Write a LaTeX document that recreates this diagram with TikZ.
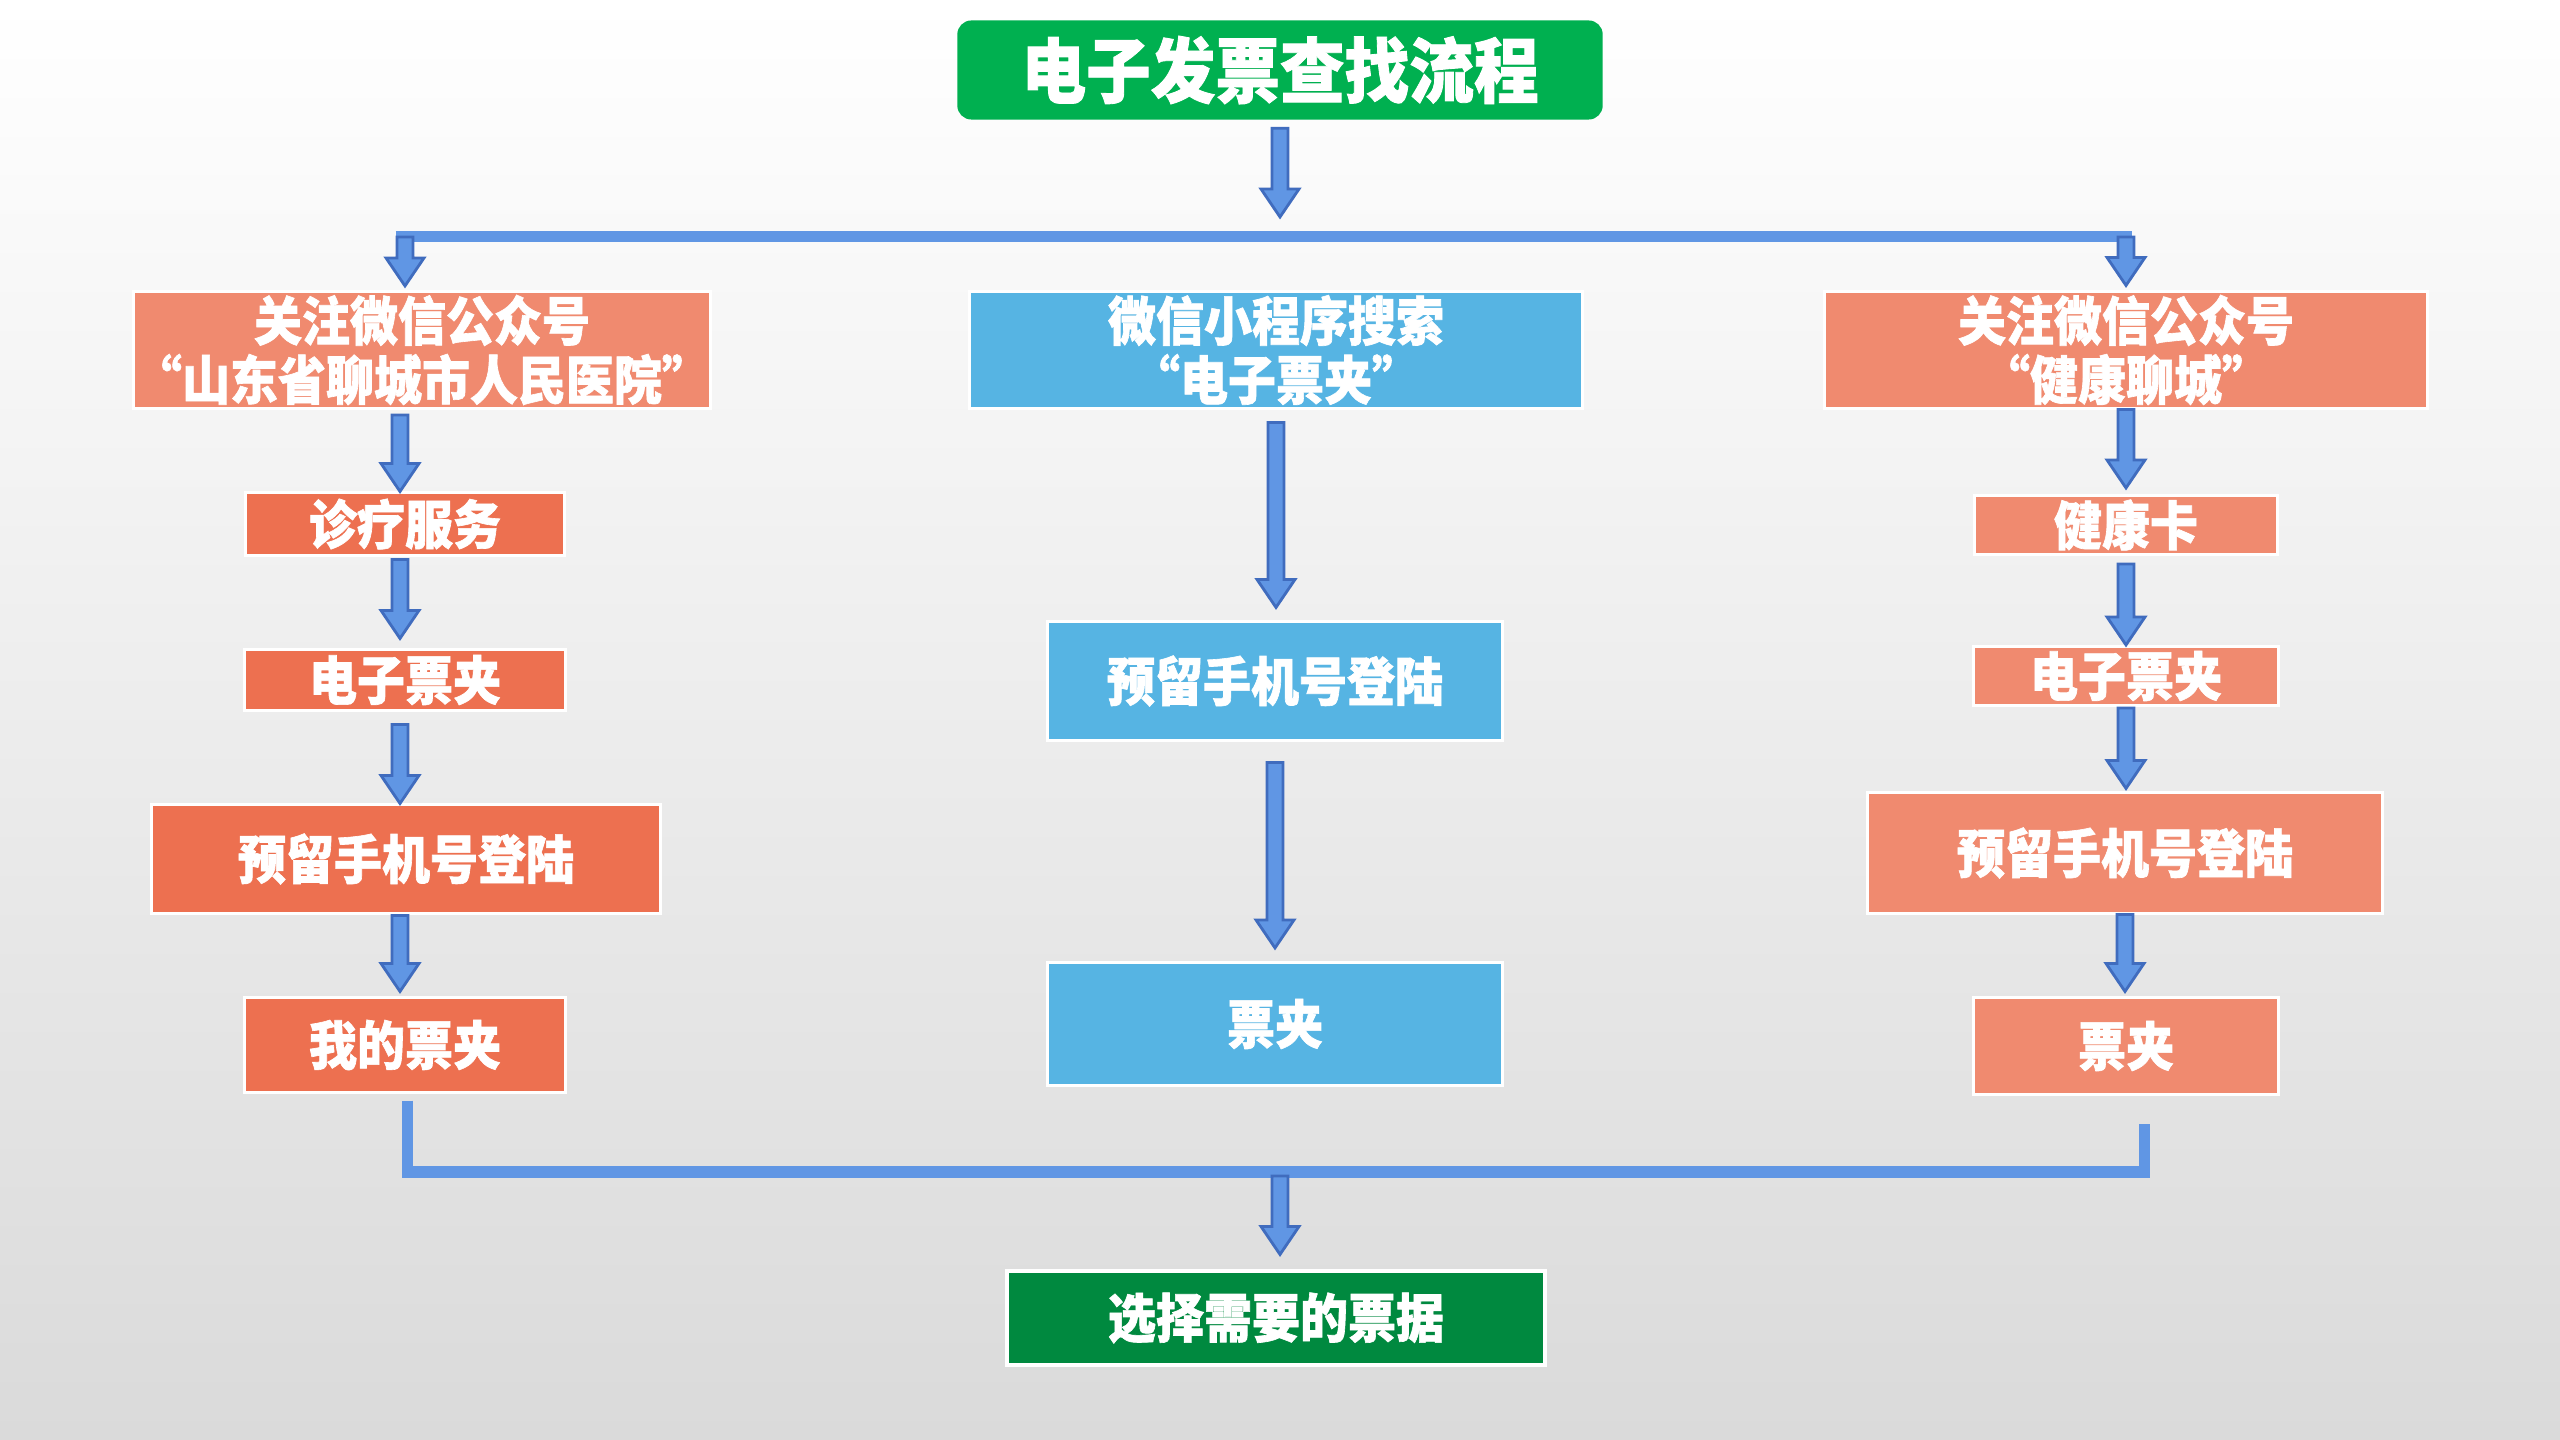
\documentclass[tikz,border=0pt]{standalone}
\usepackage{fontspec}
\newfontfamily\cjk[FakeStretch=0.91,BoldFeatures={FakeBold=1.2}]{Noto Sans CJK SC}
\usetikzlibrary{calc}
\definecolor{titlegreen}{RGB}{0,176,80}
\definecolor{endgreen}{RGB}{0,137,63}
\definecolor{salmon}{RGB}{240,138,111}
\definecolor{deeporange}{RGB}{237,112,80}
\definecolor{skyblue}{RGB}{86,180,227}
\definecolor{arrfill}{RGB}{96,150,228}
\definecolor{arrline}{RGB}{64,108,190}
\definecolor{bgbottom}{RGB}{218,218,218}
\definecolor{bgmid}{RGB}{243,243,243}
\newcommand\arrsw{0.08cm}
\newcommand\arrhw{0.19cm}
\newcommand\arrhl{0.28cm}
\newcommand\blockarr[2]{%
  \path[arrsty] let \p1=#1, \p2=#2 in
    (\x1-\arrsw,\y1) -- (\x1+\arrsw,\y1) -- (\x1+\arrsw,\y2+\arrhl) -- (\x1+\arrhw,\y2+\arrhl)
    -- (\x1,\y2) -- (\x1-\arrhw,\y2+\arrhl) -- (\x1-\arrsw,\y2+\arrhl) -- cycle;}
\tikzset{
  arrsty/.style={fill=arrfill, draw=arrline, line width=0.8pt, line join=miter},
  conn/.style={draw=arrfill, line width=0.11cm},
  box/.style={rectangle, draw=white, line width=0.03cm, text=white, inner sep=0pt,
    align=center, font=\cjk\bfseries\fontsize{15}{16.8}\selectfont},
  lbox/.style={box, fill=salmon},
  dbox/.style={box, fill=deeporange},
  bbox/.style={box, fill=skyblue},
}
\begin{document}
\begin{tikzpicture}[x=0.01cm,y=-0.01cm]
\useasboundingbox (0,0) rectangle (2560,1440);
\shade[top color=white, middle color=bgmid, bottom color=bgbottom] (0,0) rectangle (2560,1440);

\node[rectangle, rounded corners=0.14cm, fill=titlegreen, text=white, minimum width=6.45cm, minimum height=0.99cm,
  font=\cjk\bfseries\fontsize{20.2}{22}\selectfont] (title) at (1280,70) {电子发票查找流程};

% left column
\node[lbox, minimum width=5.74cm, minimum height=1.17cm] (L1) at (422,350) {关注微信公众号\\“山东省聊城市人民医院”};
\node[dbox, minimum width=3.19cm, minimum height=0.62cm] (L2) at (405,524) {诊疗服务};
\node[dbox, minimum width=3.20cm, minimum height=0.60cm] (L3) at (405,680) {电子票夹};
\node[dbox, minimum width=5.08cm, minimum height=1.08cm] (L4) at (406,859) {预留手机号登陆};
\node[dbox, minimum width=3.20cm, minimum height=0.94cm] (L5) at (405,1045) {我的票夹};

% middle column
\node[bbox, minimum width=6.12cm, minimum height=1.16cm] (M1) at (1276,350) {微信小程序搜索\\“电子票夹”};
\node[bbox, minimum width=4.54cm, minimum height=1.18cm] (M2) at (1275,681) {预留手机号登陆};
\node[bbox, minimum width=4.54cm, minimum height=1.23cm] (M3) at (1275,1024) {票夹};

% right column
\node[lbox, minimum width=6.03cm, minimum height=1.16cm] (R1) at (2126,350) {关注微信公众号\\“健康聊城”};
\node[lbox, minimum width=3.03cm, minimum height=0.59cm] (R2) at (2126,525) {健康卡};
\node[lbox, minimum width=3.04cm, minimum height=0.59cm] (R3) at (2126,676) {电子票夹};
\node[lbox, minimum width=5.14cm, minimum height=1.20cm] (R4) at (2125,853) {预留手机号登陆};
\node[lbox, minimum width=3.04cm, minimum height=0.96cm] (R5) at (2126,1046) {票夹};

% end
\node[box, fill=endgreen, line width=0.04cm, minimum width=5.38cm, minimum height=0.93cm] (E) at (1276,1318) {选择需要的票据};

% top distribution
\coordinate (topL) at (405,237);
\coordinate (topR) at (2126,237);
\coordinate (topM) at (1280,217);
\draw[conn] ([xshift=-0.09cm]topL) -- ([xshift=0.06cm]topR);
\blockarr{([yshift=-0.08cm]title.south)}{(topM)}
\blockarr{(topL)}{([yshift=0.04cm]L1.north)}
\blockarr{(topR)}{([yshift=0.05cm]R1.north)}

% bottom collection
\coordinate (botL) at (407,1172);
\coordinate (botR) at (2144,1172);
\coordinate (botM) at (1280,1176);
\draw[conn] ([yshift=-0.07cm]L5.south -| botL) -- (botL) -- (botR) -- ([yshift=-0.28cm]R5.south -| botR);
\blockarr{(botM)}{([yshift=0.15cm]E.north)}

% left arrows
\coordinate (lax) at (400,0);
\blockarr{([yshift=-0.05cm]L1.south -| lax)}{([yshift=0.00cm]L2.north -| lax)}
\blockarr{([yshift=-0.03cm]L2.south -| lax)}{([yshift=0.10cm]L3.north -| lax)}
\blockarr{([yshift=-0.13cm]L3.south -| lax)}{([yshift=0.00cm]L4.north -| lax)}
\blockarr{([yshift=-0.01cm]L4.south -| lax)}{([yshift=0.05cm]L5.north -| lax)}

% middle arrows
\blockarr{([yshift=-0.13cm]M1.south)}{([yshift=0.13cm]M2.north)}
\blockarr{([yshift=-0.21cm]M2.south)}{([yshift=0.13cm]M3.north)}

% right arrows
\blockarr{([yshift=-0.00cm]R1.south)}{([yshift=0.06cm]R2.north)}
\blockarr{([yshift=-0.08cm]R2.south)}{([yshift=0.00cm]R3.north)}
\blockarr{([yshift=-0.01cm]R3.south)}{([yshift=0.03cm]R4.north)}
\blockarr{([yshift=-0.00cm]R4.south)}{([yshift=0.05cm]R5.north)}
\end{tikzpicture}
\end{document}
